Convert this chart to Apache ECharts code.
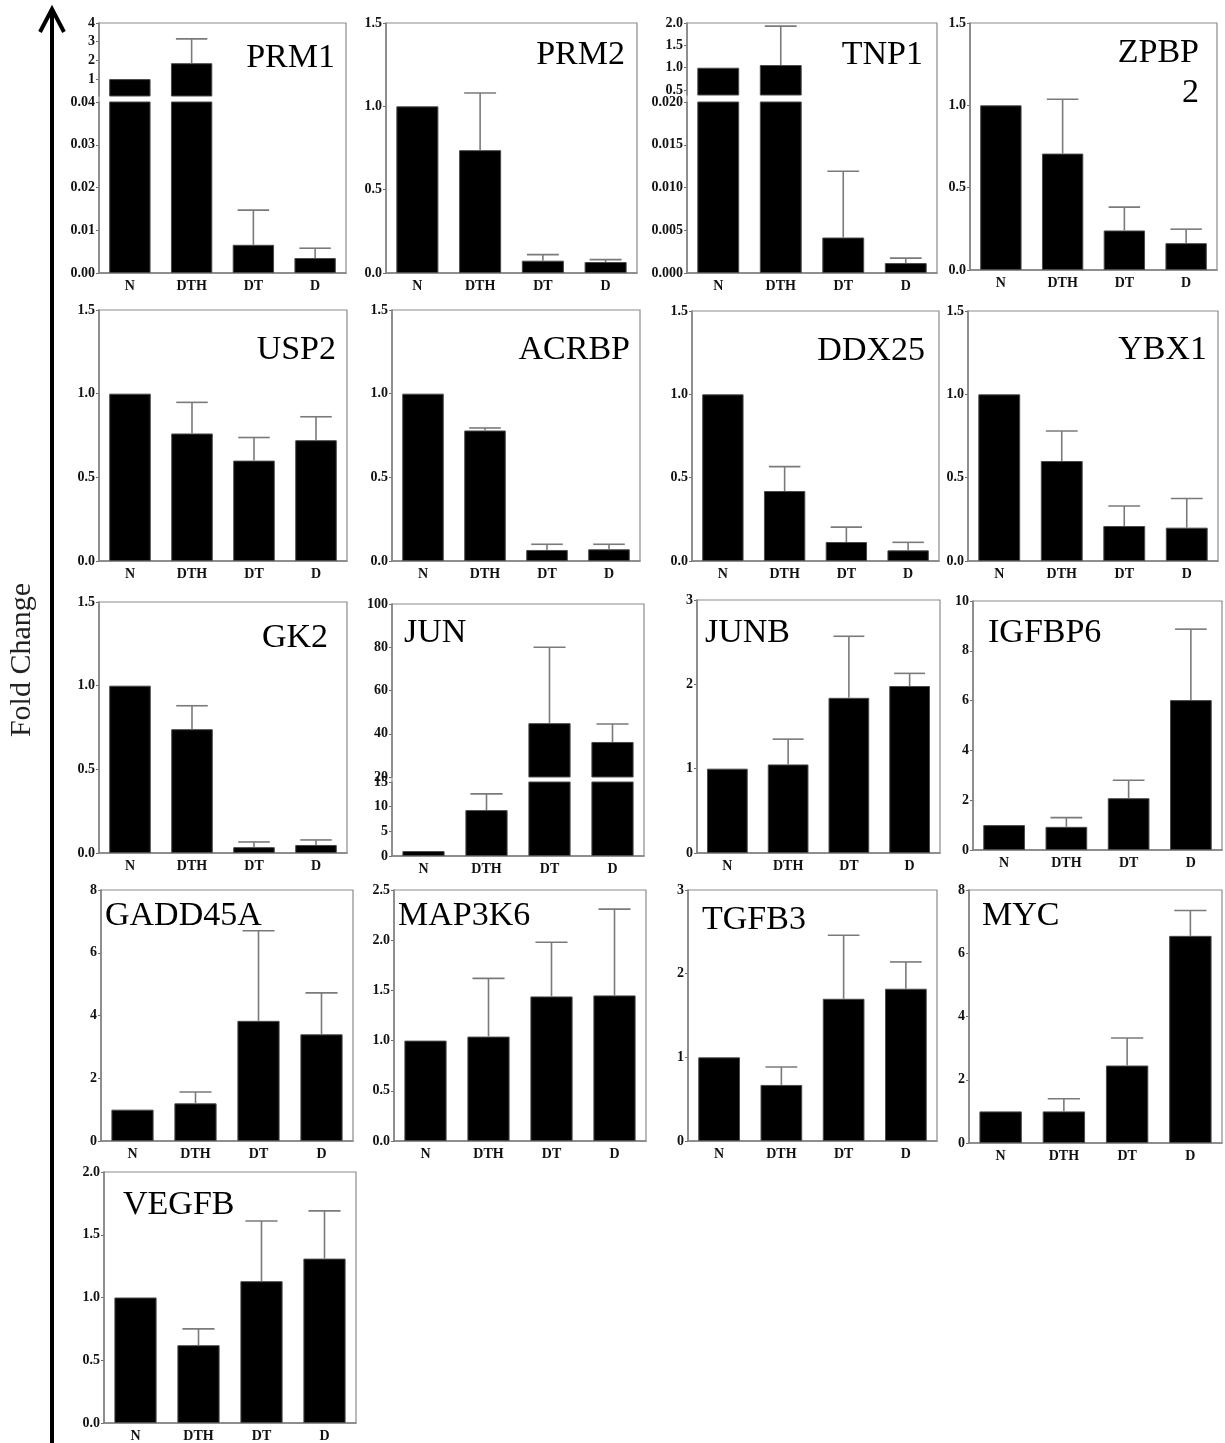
<!DOCTYPE html>
<html>
<head>
<meta charset="utf-8">
<script src="https://cdn.jsdelivr.net/npm/echarts@6/dist/echarts.min.js"></script>
<style>html,body{margin:0;padding:0;background:#fff;}#c{width:1225px;height:1443px;}</style>
</head>
<body>
<div id="c"></div>
<script>
// ---------- DATA ----------
const categories = ['N', 'DTH', 'DT', 'D'];

const PRM1_mean  = [1, 1.85, 0.0066, 0.0035];
const PRM1_upper = [1, 3.15, 0.0147, 0.0058];
const PRM2_mean  = [1, 0.737, 0.074, 0.066];
const PRM2_upper = [1, 1.08, 0.11, 0.08];
const TNP1_mean  = [1, 1.06, 0.00415, 0.00116];
const TNP1_upper = [1, 1.93, 0.0119, 0.00174];
const ZPBP2_mean  = [1, 0.707, 0.24, 0.163];
const ZPBP2_upper = [1, 1.037, 0.382, 0.248];
const USP2_mean  = [1, 0.762, 0.60, 0.722];
const USP2_upper = [1, 0.948, 0.738, 0.862];
const ACRBP_mean  = [1, 0.78, 0.066, 0.07];
const ACRBP_upper = [1, 0.795, 0.10, 0.10];
const DDX25_mean  = [1, 0.42, 0.114, 0.064];
const DDX25_upper = [1, 0.566, 0.203, 0.112];
const YBX1_mean  = [1, 0.60, 0.21, 0.20];
const YBX1_upper = [1, 0.78, 0.33, 0.375];
const GK2_mean  = [1, 0.74, 0.035, 0.048];
const GK2_upper = [1, 0.88, 0.066, 0.078];
const JUN_mean  = [1, 9.3, 44.9, 36.2];
const JUN_upper = [1, 12.6, 80, 44.5];
const JUNB_mean  = [1, 1.05, 1.84, 1.98];
const JUNB_upper = [1, 1.35, 2.57, 2.13];
const IGFBP6_mean  = [1, 0.93, 2.08, 6.02];
const IGFBP6_upper = [1, 1.3, 2.8, 8.87];
const GADD45A_mean  = [1, 1.2, 3.83, 3.4];
const GADD45A_upper = [1, 1.56, 6.7, 4.72];
const MAP3K6_mean  = [1, 1.04, 1.44, 1.45];
const MAP3K6_upper = [1, 1.62, 1.98, 2.31];
const TGFB3_mean  = [1, 0.67, 1.70, 1.82];
const TGFB3_upper = [1, 0.885, 2.46, 2.14];
const MYC_mean  = [1, 1.0, 2.45, 6.55];
const MYC_upper = [1, 1.4, 3.32, 7.35];
const VEGFB_mean  = [1, 0.62, 1.13, 1.31];
const VEGFB_upper = [1, 0.75, 1.61, 1.69];

// tick label values
const ticks_1_5   = [0, 0.5, 1.0, 1.5];
const ticks_2_0   = [0, 0.5, 1.0, 1.5, 2.0];
const ticks_2_5   = [0, 0.5, 1.0, 1.5, 2.0, 2.5];
const ticks_3     = [0, 1, 2, 3];
const ticks_8     = [0, 2, 4, 6, 8];
const ticks_10    = [0, 2, 4, 6, 8, 10];
const PRM1_ticksHigh = [1, 2, 3, 4];
const PRM1_ticksLow  = [0, 0.01, 0.02, 0.03, 0.04];
const TNP1_ticksHigh = [0.5, 1.0, 1.5, 2.0];
const TNP1_ticksLow  = [0, 0.005, 0.010, 0.015, 0.020];
const JUN_ticksHigh  = [20, 40, 60, 80, 100];
const JUN_ticksLow   = [0, 5, 10, 15];

// ---------- LAYOUT ----------
function seg(min, max, ticks, dec, top, bottom) { return {min, max, ticks, dec, top, bottom}; }
const panels = [
  {t:'PRM1', m:PRM1_mean, u:PRM1_upper, box:[99,23,346,273], ta:'right', tx:335, ty:45,
   segs:[seg(0.095,4,PRM1_ticksHigh,0,23,96), seg(0,0.04,PRM1_ticksLow,2,102,273)]},
  {t:'PRM2', m:PRM2_mean, u:PRM2_upper, box:[386,23,637,273], ta:'right', tx:625, ty:42,
   segs:[seg(0,1.5,ticks_1_5,1,23,273)]},
  {t:'TNP1', m:TNP1_mean, u:TNP1_upper, box:[687,23,937,273], ta:'right', tx:923, ty:42,
   segs:[seg(0.39,2,TNP1_ticksHigh,1,23,95), seg(0,0.02,TNP1_ticksLow,3,102,273)]},
  {t:'ZPBP\n2', m:ZPBP2_mean, u:ZPBP2_upper, box:[970,23,1217,270], ta:'right', tx:1199, ty:40,
   segs:[seg(0,1.5,ticks_1_5,1,23,270)]},

  {t:'USP2', m:USP2_mean, u:USP2_upper, box:[99,310,347,561], ta:'right', tx:336, ty:337,
   segs:[seg(0,1.5,ticks_1_5,1,310,561)]},
  {t:'ACRBP', m:ACRBP_mean, u:ACRBP_upper, box:[392,310,640,561], ta:'right', tx:630, ty:337,
   segs:[seg(0,1.5,ticks_1_5,1,310,561)]},
  {t:'DDX25', m:DDX25_mean, u:DDX25_upper, box:[692,311,939,561], ta:'right', tx:925, ty:338,
   segs:[seg(0,1.5,ticks_1_5,1,311,561)]},
  {t:'YBX1', m:YBX1_mean, u:YBX1_upper, box:[968,311,1218,561], ta:'right', tx:1207, ty:337,
   segs:[seg(0,1.5,ticks_1_5,1,311,561)]},

  {t:'GK2', m:GK2_mean, u:GK2_upper, box:[99,602,347,853], ta:'right', tx:328, ty:625,
   segs:[seg(0,1.5,ticks_1_5,1,602,853)]},
  {t:'JUN', m:JUN_mean, u:JUN_upper, box:[392,604,644,856], ta:'left', tx:404, ty:620,
   segs:[seg(20,100,JUN_ticksHigh,0,604,777), seg(0,15,JUN_ticksLow,0,782,856)]},
  {t:'JUNB', m:JUNB_mean, u:JUNB_upper, box:[697,600,940,853], ta:'left', tx:705, ty:620,
   segs:[seg(0,3,ticks_3,0,600,853)]},
  {t:'IGFBP6', m:IGFBP6_mean, u:IGFBP6_upper, box:[973,601,1222,850], ta:'left', tx:988, ty:620,
   segs:[seg(0,10,ticks_10,0,601,850)]},

  {t:'GADD45A', m:GADD45A_mean, u:GADD45A_upper, box:[101,890,353,1141], ta:'left', tx:105, ty:903,
   segs:[seg(0,8,ticks_8,0,890,1141)]},
  {t:'MAP3K6', m:MAP3K6_mean, u:MAP3K6_upper, box:[394,890,646,1141], ta:'left', tx:398, ty:903,
   segs:[seg(0,2.5,ticks_2_5,1,890,1141)]},
  {t:'TGFB3', m:TGFB3_mean, u:TGFB3_upper, box:[688,890,937,1141], ta:'left', tx:702, ty:907,
   segs:[seg(0,3,ticks_3,0,890,1141)]},
  {t:'MYC', m:MYC_mean, u:MYC_upper, box:[969,890,1222,1143], ta:'left', tx:982, ty:903,
   segs:[seg(0,8,ticks_8,0,890,1143)]},

  {t:'VEGFB', m:VEGFB_mean, u:VEGFB_upper, box:[104,1172,356,1423], ta:'left', tx:123, ty:1192,
   segs:[seg(0,2,ticks_2_0,1,1172,1423)]}
];

// ---------- STYLE ----------
const SERIF = '"Liberation Serif", "Times New Roman", serif';
const AXIS_COLOR = '#6e6e6e';
const FRAME_COLOR = '#8c8c8c';
const ERR_COLOR = '#7a7a7a';
const LABEL_STYLE = {fontFamily: SERIF, fontWeight: 'bold', fontSize: 14, color: '#111'};
const TITLE_SIZE = 34;
const BAR_FRAC = 0.67;

function renderErr(params, api) {
  const i = api.value(0), m = api.value(1), u = api.value(2);
  if (!(u > m)) return null;
  const cs = params.coordSys;
  const yTop = cs.y, yBot = cs.y + cs.height;
  const p0 = api.coord([i, m]), p1 = api.coord([i, u]);
  const y0 = Math.min(Math.max(p0[1], yTop), yBot);
  const y1 = Math.min(Math.max(p1[1], yTop), yBot);
  const half = api.size([1, 0])[0] * BAR_FRAC * 0.38;
  const st = {stroke: ERR_COLOR, lineWidth: 1.6};
  const children = [];
  if (y0 - y1 > 0.5) children.push({type:'line', shape:{x1:p0[0], y1:y0, x2:p0[0], y2:y1}, style:st});
  if (p1[1] >= yTop && p1[1] <= yBot) children.push({type:'line', shape:{x1:p1[0]-half, y1:p1[1], x2:p1[0]+half, y2:p1[1]}, style:st});
  return {type:'group', children};
}

const grid = [], xAxis = [], yAxis = [], series = [], graphic = [];

panels.forEach(p => {
  const [L, T, R, B] = p.box;
  p.segs.forEach((s, si) => {
    const gi = grid.length;
    const isBottom = si === p.segs.length - 1;
    grid.push({left: L, top: s.top, width: R - L, height: s.bottom - s.top, containLabel: false, outerBoundsMode: 'none'});
    xAxis.push({
      gridIndex: gi, type: 'category', data: categories,
      axisLine: {show: isBottom, lineStyle: {color: AXIS_COLOR, width: 1.5}},
      axisTick: {show: false},
      axisLabel: Object.assign({show: isBottom, margin: 6, interval: 0}, LABEL_STYLE),
      splitLine: {show: false}
    });
    yAxis.push({
      gridIndex: gi, type: 'value', min: s.min, max: s.max,
      axisLine: {show: true, lineStyle: {color: AXIS_COLOR, width: 1.5}},
      axisTick: {show: true, length: 3, inside: false, customValues: s.ticks, lineStyle: {color: AXIS_COLOR}},
      axisLabel: Object.assign({margin: 4, customValues: s.ticks, showMinLabel: true, showMaxLabel: true,
        formatter: v => Number(v).toFixed(s.dec)}, LABEL_STYLE),
      splitLine: {show: false}
    });
    series.push({
      type: 'bar', xAxisIndex: gi, yAxisIndex: gi, data: p.m,
      barWidth: (BAR_FRAC * 100) + '%', clip: true, silent: true,
      itemStyle: {color: '#000', borderColor: '#4a4a4a', borderWidth: 1}
    });
    series.push({
      type: 'custom', xAxisIndex: gi, yAxisIndex: gi, clip: true, silent: true,
      encode: {x: 0, y: 1},
      data: p.m.map((v, i) => [i, v, p.u[i]]),
      renderItem: renderErr, z: 3
    });
  });
  graphic.push({type: 'rect', shape: {x: L, y: T, width: R - L, height: B - T},
    style: {fill: 'none', stroke: FRAME_COLOR, lineWidth: 1.2}, z: 1, silent: true});
  graphic.push({type: 'text', x: p.tx, y: p.ty - 7, silent: true, z: 5,
    style: {text: p.t, font: TITLE_SIZE + 'px ' + SERIF, fill: '#000', align: p.ta, verticalAlign: 'top', lineHeight: 40}});
});

// big arrow and axis name
graphic.push({type: 'line', shape: {x1: 52, y1: 10, x2: 52, y2: 1443}, style: {stroke: '#000', lineWidth: 4}, silent: true});
graphic.push({type: 'polyline', shape: {points: [[40, 32], [52, 9], [64, 32]]}, style: {stroke: '#000', lineWidth: 4, fill: 'none', lineJoin: 'miter'}, silent: true});
graphic.push({type: 'text', x: 22, y: 660, rotation: Math.PI / 2,
  style: {text: 'Fold Change', font: '30px ' + SERIF, fill: '#222', align: 'center', verticalAlign: 'middle'}, silent: true});

const chart = echarts.init(document.getElementById('c'), null, {renderer: 'canvas', width: 1225, height: 1443});
chart.setOption({
  animation: false,
  backgroundColor: '#fff',
  grid, xAxis, yAxis, series, graphic
});
</script>
</body>
</html>
